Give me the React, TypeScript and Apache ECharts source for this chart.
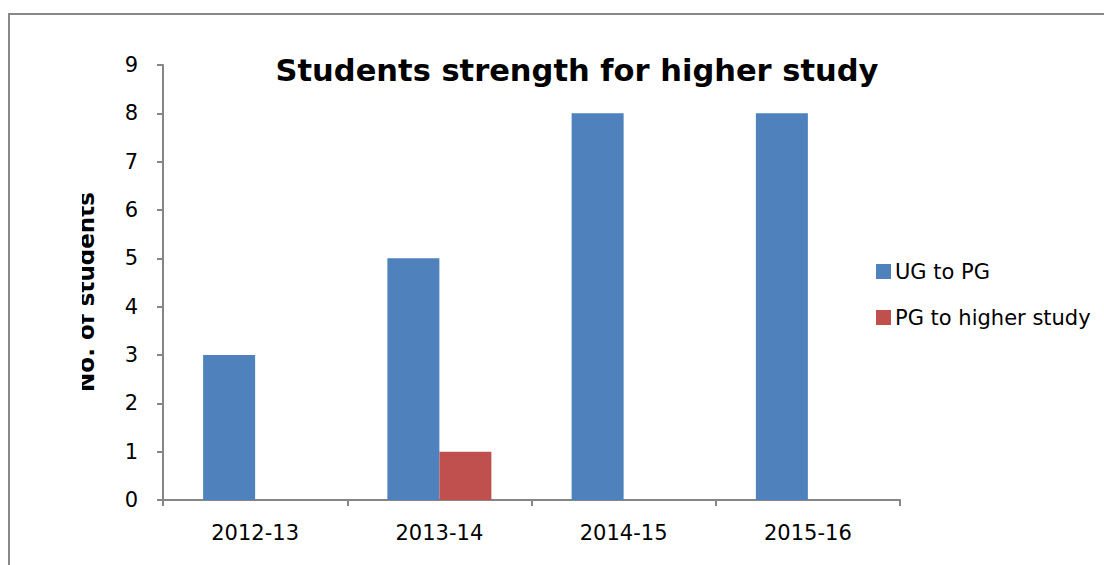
import React, { useEffect, useRef } from "react";
import * as echarts from "echarts";

const categories = ["2012-13", "2013-14", "2014-15", "2015-16"];
const ugToPg = [3, 5, 8, 8];
const pgToHigher = [null, 1, null, null];
const seriesNames = ["UG to PG", "PG to higher study"];
const titleText = "Students strength for higher study";
const yAxisName = "No. of students";

export default function App() {
  const ref = useRef<HTMLDivElement>(null);
  useEffect(() => {
    const chart = echarts.init(ref.current!, null, { renderer: "svg" });
    const tickFont = "'DejaVu Sans', sans-serif";
    chart.setOption({
      animation: false,
      backgroundColor: "#ffffff",
      title: {
        text: titleText,
        left: 572,
        top: 50,
        textAlign: "center",
        textStyle: {
          fontFamily: "'DejaVu Sans', sans-serif",
          fontWeight: "bold",
          fontSize: 30.5,
          color: "#000",
        },
      },
      legend: {
        orient: "vertical",
        left: 871,
        top: 256,
        itemWidth: 15,
        itemHeight: 15,
        itemGap: 25,
        icon: "rect",
        textStyle: { fontFamily: tickFont, fontSize: 21, color: "#000", padding: [0, 0, 0, -1] },
        data: seriesNames,
      },
      grid: { left: 163, right: 204, top: 65, bottom: 65 },
      xAxis: {
        type: "category",
        data: categories,
        axisLine: { lineStyle: { color: "#868686", width: 2 } },
        axisTick: { show: true, length: 6, lineStyle: { color: "#868686", width: 2 } },
        axisLabel: { fontFamily: tickFont, fontSize: 21, color: "#000", margin: 22 },
      },
      yAxis: {
        type: "value",
        min: 0,
        max: 9,
        interval: 1,
        splitLine: { show: false },
        axisLine: { show: true, lineStyle: { color: "#868686", width: 2 } },
        axisTick: { show: true, length: 6, lineStyle: { color: "#868686", width: 2 } },
        axisLabel: { fontFamily: tickFont, fontSize: 21, color: "#000", margin: 25 },
      },
      series: [
        {
          name: seriesNames[0],
          type: "bar",
          data: ugToPg,
          barWidth: 52,
          barGap: "0%",
          itemStyle: { color: "#4f81bd" },
        },
        {
          name: seriesNames[1],
          type: "bar",
          data: pgToHigher,
          barWidth: 52,
          barGap: "0%",
          itemStyle: { color: "#c0504d" },
        },
      ],
      graphic: [
        {
          type: "rect",
          shape: { x: 9, y: 14, width: 1200, height: 700 },
          style: { fill: "none", stroke: "#888888", lineWidth: 2 },
          z: 1,
          silent: true,
        },
        {
          type: "text",
          x: 97,
          y: 292,
          rotation: Math.PI / 2,
          style: {
            text: yAxisName,
            fontFamily: "'DejaVu Sans', sans-serif",
            fontWeight: "bold",
            fontSize: 23,
            fill: "#000",
            align: "center",
            verticalAlign: "bottom",
          },
          z: 10,
        },
        {
          type: "rect",
          shape: { x: 60, y: 170, width: 22, height: 240 },
          style: { fill: "#ffffff" },
          z: 20,
          silent: true,
        },
      ],
    });
    return () => chart.dispose();
  }, []);
  return (
    <div
      ref={ref}
      style={{ position: "fixed", left: 0, top: 0, width: 1104, height: 565 }}
    />
  );
}
